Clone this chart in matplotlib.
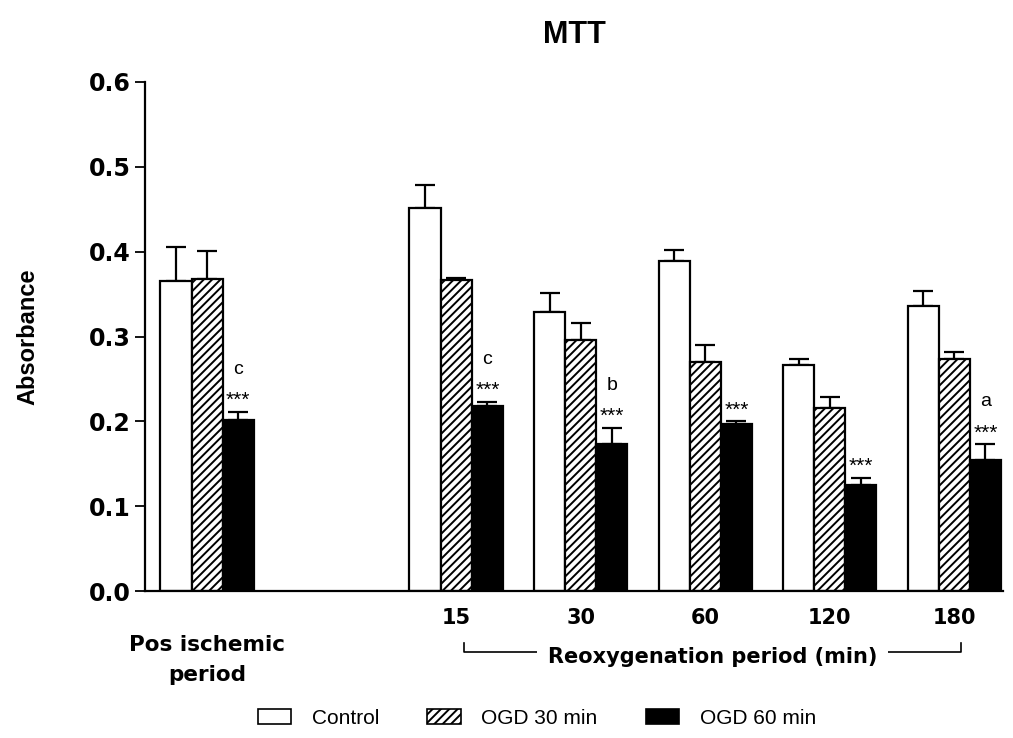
import matplotlib
matplotlib.use("Agg")
import matplotlib.pyplot as plt
import matplotlib.transforms as mtransforms
from matplotlib.patches import Patch
import numpy as np

plt.rcParams['font.family'] = ['Liberation Sans', 'DejaVu Sans']
plt.rcParams['hatch.linewidth'] = 1.4
WIDE = ['DejaVu Sans']  # the reference's bold labels are drawn wide

# data
groups = ['Pos ischemic\nperiod', '15', '30', '60', '120', '180']
positions = [0, 2, 3, 4, 5, 6]
series = ['Control', 'OGD 30 min', 'OGD 60 min']
control = [0.366, 0.452, 0.329, 0.389, 0.266, 0.336]
control_err = [0.039, 0.026, 0.022, 0.013, 0.008, 0.018]
ogd30 = [0.368, 0.367, 0.296, 0.270, 0.216, 0.274]
ogd30_err = [0.033, 0.002, 0.020, 0.020, 0.013, 0.008]
ogd60 = [0.202, 0.218, 0.173, 0.197, 0.125, 0.154]
ogd60_err = [0.009, 0.005, 0.019, 0.003, 0.008, 0.019]
stars = ['***'] * 6
letters = ['c', 'c', 'b', '', '', 'a']

fig = plt.figure(figsize=(10.13, 7.38), dpi=100)
ax = fig.add_axes([0.143, 0.199, 0.847, 0.690])

x = np.array(positions, dtype=float)
w = 0.25
styles = [dict(color='white', hatch=None),
          dict(color='white', hatch='////'),
          dict(color='black', hatch=None)]
vals = [control, ogd30, ogd60]
errs = [control_err, ogd30_err, ogd60_err]
for i, (v, e, st) in enumerate(zip(vals, errs, styles)):
    xi = x + (i - 1) * w
    ax.bar(xi, v, width=w, color=st['color'], edgecolor='black',
           linewidth=1.6, hatch=st['hatch'], zorder=2)
    ax.errorbar(xi, v, yerr=[np.zeros(len(v)), e], fmt='none',
                ecolor='black', elinewidth=1.6, capsize=7, capthick=1.6,
                zorder=1)

# significance marks over the OGD 60 bars
for xi, v, e, s, l in zip(x + w, ogd60, ogd60_err, stars, letters):
    top = v + e
    ax.text(xi, top + 0.007, s, ha='center', va='baseline', fontsize=15)
    if l:
        ax.text(xi, top + 0.045, l, ha='center', va='baseline', fontsize=14)

ax.set_xlim(-0.5, 6.39)
ax.set_ylim(0, 0.6)
ax.set_yticks(np.arange(0, 0.61, 0.1))
ax.yaxis.set_major_formatter(matplotlib.ticker.FormatStrFormatter('%.1f'))
ax.tick_params(axis='y', length=7, width=1.3, pad=3)
ax.tick_params(axis='x', length=0, pad=12)
for lab in ax.get_yticklabels():
    lab.set_fontweight('bold')
    lab.set_family(WIDE)
    lab.set_fontsize(17)
ax.set_xticks(x[1:])
ax.set_xticklabels(groups[1:], fontweight='bold', family=WIDE, fontsize=15)
ax.spines['top'].set_visible(False)
ax.spines['right'].set_visible(False)
ax.spines['left'].set_linewidth(1.6)
ax.spines['bottom'].set_linewidth(1.6)

trans = mtransforms.blended_transform_factory(ax.transData, ax.transAxes)
ax.text(x[0], -0.087, groups[0], transform=trans, ha='center', va='top',
        fontsize=15.5, fontweight='bold', family=WIDE, linespacing=1.6)

# reoxygenation bracket
by, bt = -0.12, -0.102
ax.plot([x[1] + 0.06, x[1] + 0.06, x[-1] + 0.05, x[-1] + 0.05],
        [bt, by, by, bt], color='black', lw=1.2, transform=trans,
        clip_on=False)
ax.text((x[1] + x[-1]) / 2 + 0.06, by - 0.01, 'Reoxygenation period (min)',
        transform=trans, ha='center', va='center', fontsize=15,
        fontweight='bold', family=WIDE,
        bbox=dict(facecolor='white', edgecolor='none', pad=8))

ax.set_ylabel('Absorbance', fontsize=17, fontweight='bold', labelpad=36)
fig.text(0.567, 0.952, 'MTT', ha='center', va='center', fontsize=22,
         fontweight='bold')

handles = [Patch(facecolor='white', edgecolor='black', linewidth=1.2),
           Patch(facecolor='white', edgecolor='black', hatch='////',
                 linewidth=1.2),
           Patch(facecolor='black', edgecolor='black', linewidth=1.2)]
fig.legend(handles, series, loc='center', bbox_to_anchor=(0.53, 0.027),
           ncol=3, frameon=False, handlelength=1.6, handleheight=0.7,
           handletextpad=1.0, columnspacing=2.3,
           prop={'family': ['Liberation Sans Narrow', 'Liberation Sans'],
                 'size': 15})

fig.savefig('out.png', dpi=100)
